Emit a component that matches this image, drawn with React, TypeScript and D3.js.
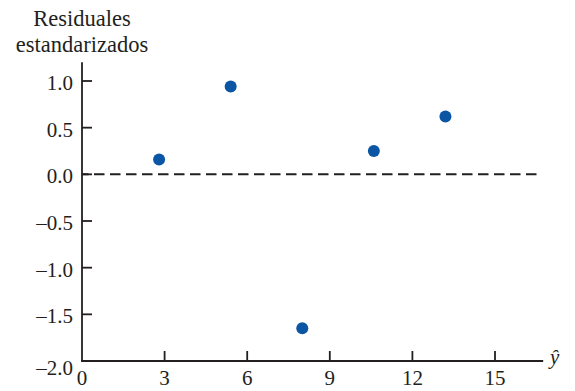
import React from "react";
import * as d3 from "d3";

const fittedValues = [2.8, 5.4, 8.0, 10.6, 13.2];
const stdResiduals = [0.16, 0.94, -1.65, 0.25, 0.62];
const xTicks = [0, 3, 6, 9, 12, 15];
const yTicks = [1.0, 0.5, 0.0, -0.5, -1.0, -1.5, -2.0];
const titleLines = ["Residuales", "estandarizados"];
const xAxisLabel = "ŷ";

const W = 575;
const H = 391;
const FONT = "Liberation Serif, Times New Roman, serif";
const INK = "#231f20";
const DOT = "#0a55a4";

export default function App() {
  const x = d3.scaleLinear().domain([0, 15]).range([82, 495]);
  const y = d3.scaleLinear().domain([-2, 1]).range([361, 81]);
  const fmt = (v: number) => (v < 0 ? "\u2013" : "") + Math.abs(v).toFixed(1);

  return (
    <svg
      width={W}
      height={H}
      style={{ position: "absolute", left: 0, top: 0, fontFamily: FONT }}
    >
      {titleLines.map((t, i) => (
        <text key={t} x={82} y={26 + i * 26} textAnchor="middle" fontSize={22.5} fill={INK}>
          {t}
        </text>
      ))}
      {/* zero reference line */}
      <line
        x1={x(0)}
        x2={x(16.7)}
        y1={y(0)}
        y2={y(0)}
        stroke={INK}
        strokeWidth={2}
        strokeDasharray="10.5 5.5"
        strokeDashoffset={-12}
      />
      {/* axes */}
      <line x1={x(0)} x2={x(0)} y1={y(1.2)} y2={y(-2)} stroke={INK} strokeWidth={1.8} />
      <line x1={x(0) - 0.9} x2={x(16.75)} y1={y(-2)} y2={y(-2)} stroke={INK} strokeWidth={1.8} />
      {yTicks.map((v) => (
        <g key={v}>
          <line x1={x(0)} x2={x(0) + 10} y1={y(v)} y2={y(v)} stroke={INK} strokeWidth={1.8} />
          <text
            x={73}
            y={y(v) + (v === -2 ? 14 : 9)}
            textAnchor="end"
            fontSize={21}
            fill={INK}
          >
            {fmt(v)}
          </text>
        </g>
      ))}
      {xTicks.map((v) => (
        <g key={v}>
          {v !== 0 && (
            <line x1={x(v)} x2={x(v)} y1={y(-2)} y2={y(-2) - 10} stroke={INK} strokeWidth={1.8} />
          )}
          <text x={x(v)} y={385} textAnchor="middle" fontSize={21} fill={INK}>
            {v}
          </text>
        </g>
      ))}
      <text x={550} y={364} fontSize={21} fontStyle="italic" fill={INK}>
        {xAxisLabel}
      </text>
      {fittedValues.map((fv, i) => (
        <circle key={i} cx={x(fv)} cy={y(stdResiduals[i])} r={6} fill={DOT} />
      ))}
    </svg>
  );
}
